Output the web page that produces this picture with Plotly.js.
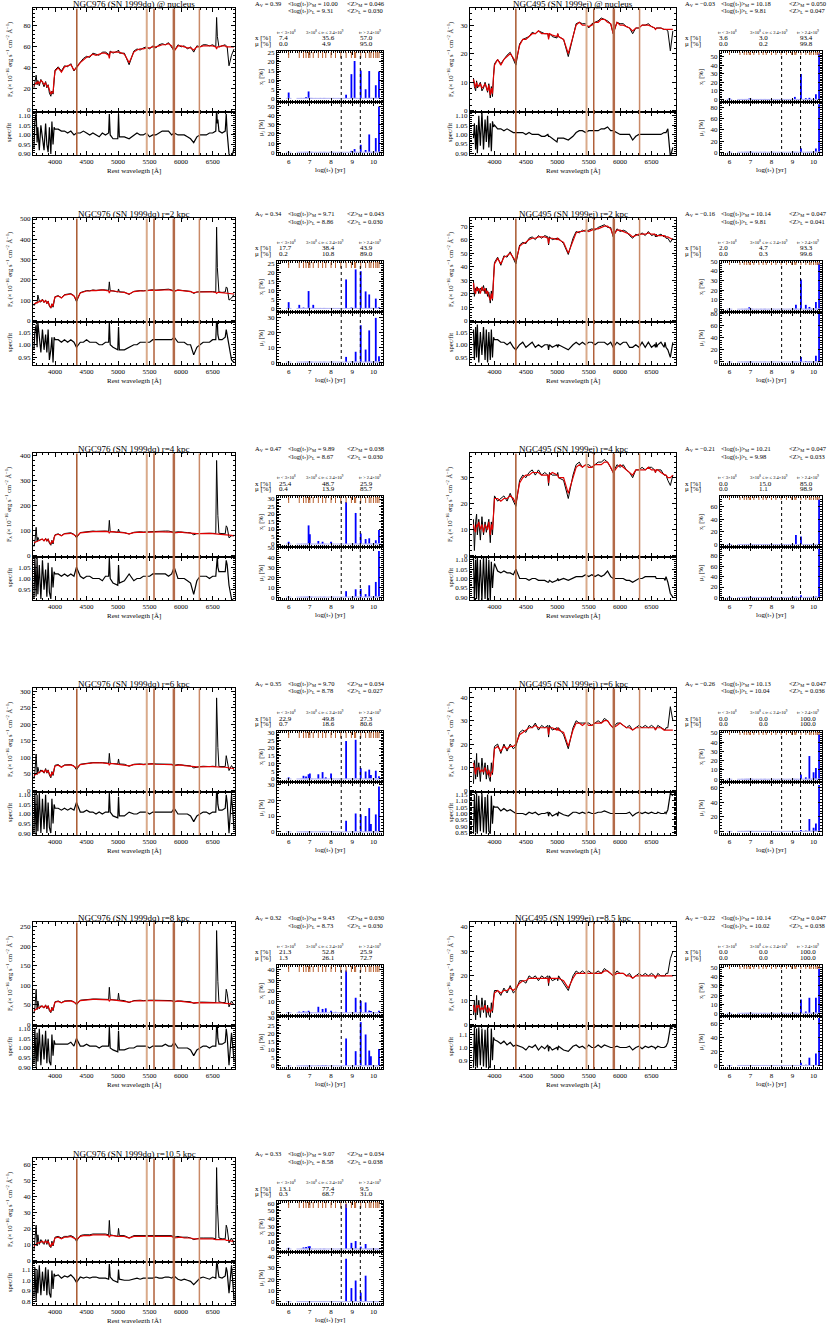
<!DOCTYPE html>
<html>
<head>
<meta charset="utf-8">
<script src="https://cdn.plot.ly/plotly-3.0.1.min.js"></script>
<style>
  html, body { margin: 0; padding: 0; background: #fff; }
  #chart { width: 828px; height: 1323px; }
</style>
</head>
<body>
<div id="chart"></div>
<script>
// Rest-frame wavelength grid (A) shared by every spectrum
const WAVE = [
  3665, 3680, 3700, 3715, 3727, 3750, 3775, 3800, 3825, 3850,
  3870, 3890, 3910, 3933, 3950, 3968, 3985, 4000, 4050, 4101,
  4150, 4200, 4250, 4300, 4340, 4400, 4450, 4500, 4550, 4600,
  4650, 4700, 4750, 4800, 4850, 4861, 4875, 4920, 4995, 5007,
  5020, 5100, 5175, 5250, 5300, 5350, 5400, 5450, 5500, 5550,
  5600, 5650, 5700, 5750, 5800, 5850, 5890, 5950, 6000, 6050,
  6100, 6150, 6200, 6250, 6300, 6350, 6400, 6450, 6500, 6550,
  6563, 6575, 6583, 6600, 6650, 6700, 6716, 6731, 6760, 6800, 6840];

// SSP base ages, log(t*/yr)
const AGES = [6.00, 6.50, 6.70, 6.82, 6.94, 7.00, 7.16, 7.40, 7.60, 7.75,
  8.00, 8.21, 8.46, 8.71, 8.96, 9.11, 9.16, 9.40, 9.63, 9.80,
  9.88, 10.00, 10.11, 10.18, 10.26];

// masked windows (rest wavelength)
const MASK_976 = [4345, 5455, 5570, 5885, 6290];
const MASK_495 = [4340, 5465, 5580, 5900, 6310];

// ---- NGC976 @ nucleus
const FIT_976_NUC = [
  23, 24, 26, 25, 27, 25, 28, 27, 24, 26,
  22, 23, 19, 15, 17, 16, 30, 37, 40, 36,
  41, 42, 43, 38, 40, 45, 48, 50, 51, 53,
  52, 53, 54, 54, 52, 49, 55, 55, 55, 55,
  55, 53, 45, 55, 57, 58, 58, 59, 59, 60,
  60, 61, 62, 62, 63, 61, 56, 61, 61, 60,
  59, 59, 57, 60, 60, 61, 61, 61, 61, 60,
  58, 60, 60, 60, 61, 61, 60, 60, 60, 60, 60];
const OBS_976_NUC = [
  21, 25, 33, 24, 28, 23, 29, 26, 22, 27,
  21, 24, 16, 13, 18, 15, 31, 38, 41, 37,
  42, 41, 44, 37, 41, 46, 49, 51, 50, 54,
  53, 52, 55, 55, 53, 52, 56, 54, 56, 57,
  54, 54, 43, 56, 58, 57, 59, 60, 58, 61,
  59, 62, 63, 62, 64, 60, 56, 62, 60, 61,
  58, 60, 55, 61, 60, 62, 62, 61, 62, 60,
  88, 70, 66, 60, 61, 62, 61, 60, 42, 52, 58];
const RES_976_NUC = [
  0.93, 1.07, 1.12, 0.96, 1.04, 0.92, 1.05, 0.97, 0.92, 1.06,
  0.95, 0.91, 1.04, 0.90, 1.07, 0.95, 1.04, 1.03, 1.03, 1.02,
  1.02, 1.01, 1.02, 1.00, 1.01, 1.01, 1.02, 1.01, 1.00, 1.01,
  1.00, 0.99, 1.01, 1.00, 1.01, 1.11, 1.00, 0.98, 0.98, 1.11,
  0.99, 0.99, 0.98, 1.00, 1.01, 1.00, 1.00, 1.01, 0.99, 1.00,
  1.00, 1.01, 1.02, 1.02, 1.02, 1.00, 1.01, 1.00, 1.00, 1.00,
  0.99, 0.98, 0.96, 0.99, 1.00, 1.00, 1.00, 1.01, 1.01, 1.02,
  1.14, 1.06, 1.08, 1.02, 1.01, 1.02, 1.11, 1.01, 0.90, 0.88, 0.93];

// ---- NGC976 r=2 kpc
const FIT_976_2 = [
  80, 82, 85, 88, 90, 92, 95, 100, 90, 98,
  85, 92, 75, 62, 80, 70, 100, 115, 120, 110,
  125, 128, 130, 120, 100, 135, 140, 145, 145, 148,
  147, 150, 150, 148, 145, 135, 145, 146, 140, 142,
  140, 138, 130, 142, 145, 146, 145, 147, 148, 149,
  148, 149, 150, 150, 151, 148, 143, 149, 148, 146,
  144, 142, 136, 140, 140, 141, 140, 141, 140, 138,
  133, 138, 138, 138, 137, 136, 135, 135, 134, 132, 130];
const OBS_976_2 = [
  72, 80, 90, 85, 125, 95, 90, 105, 88, 100,
  82, 95, 70, 60, 82, 65, 103, 117, 122, 112,
  127, 130, 132, 122, 92, 137, 142, 147, 146, 150,
  148, 151, 151, 150, 148, 190, 147, 145, 140, 155,
  141, 139, 128, 143, 146, 147, 146, 148, 149, 151,
  149, 151, 152, 153, 154, 150, 145, 150, 149, 147,
  145, 143, 133, 140, 141, 142, 141, 142, 142, 140,
  460, 260, 200, 140, 138, 140, 165, 160, 100, 110, 128];
const RES_976_2 = [
  0.98, 1.05, 1.08, 0.99, 1.09, 1.03, 0.97, 1.06, 0.98, 1.04,
  0.97, 1.06, 0.94, 0.98, 1.03, 0.93, 1.03, 1.02, 1.02, 1.01,
  1.02, 1.01, 1.02, 1.01, 0.99, 1.01, 1.01, 1.02, 1.01, 1.01,
  1.01, 1.00, 1.00, 1.01, 1.01, 1.09, 1.00, 0.99, 0.98, 1.07,
  0.98, 0.98, 0.99, 1.00, 1.00, 1.01, 1.01, 1.01, 1.01, 1.02,
  1.02, 1.02, 1.02, 1.02, 1.02, 1.02, 1.03, 1.01, 1.01, 1.01,
  1.00, 1.00, 0.96, 0.99, 1.00, 1.01, 1.01, 1.01, 1.02, 1.02,
  1.10, 1.09, 1.04, 1.02, 1.02, 1.03, 1.06, 1.04, 1.00, 0.94, 0.93];

// ---- NGC976 r=4 kpc
const FIT_976_4 = [
  50, 52, 55, 56, 58, 60, 62, 65, 58, 66,
  58, 64, 52, 45, 58, 50, 70, 80, 84, 78,
  86, 87, 88, 82, 75, 90, 92, 93, 94, 95,
  95, 96, 96, 96, 94, 88, 94, 95, 92, 93,
  92, 90, 86, 91, 93, 93, 92, 93, 93, 94,
  93, 94, 94, 94, 95, 93, 90, 93, 93, 91,
  90, 89, 85, 87, 87, 88, 87, 88, 87, 86,
  84, 86, 86, 86, 85, 84, 83, 83, 82, 80, 78];
const OBS_976_4 = [
  35, 52, 112, 55, 72, 58, 64, 63, 57, 68,
  56, 66, 48, 40, 60, 45, 72, 82, 86, 79,
  87, 89, 90, 84, 70, 91, 93, 95, 95, 97,
  96, 97, 97, 97, 96, 140, 95, 95, 92, 105,
  93, 91, 85, 92, 94, 94, 93, 94, 95, 96,
  95, 96, 96, 97, 97, 95, 92, 94, 94, 92,
  91, 90, 82, 87, 88, 89, 88, 88, 88, 87,
  380, 210, 160, 88, 86, 86, 118, 112, 70, 78, 80];
const RES_976_4 = [
  0.91, 1.09, 0.92, 1.09, 0.93, 1.06, 0.91, 1.08, 0.95, 1.04,
  0.92, 1.07, 0.94, 0.91, 1.05, 0.96, 1.03, 1.02, 1.02, 1.01,
  1.02, 1.01, 1.02, 1.01, 1.05, 1.01, 1.00, 1.01, 1.01, 1.00,
  1.00, 1.00, 0.99, 1.01, 1.01, 1.09, 1.00, 0.98, 0.97, 1.06,
  0.98, 0.99, 1.02, 0.99, 1.00, 1.00, 1.01, 1.01, 1.01, 1.02,
  1.02, 1.02, 1.02, 1.02, 1.01, 1.02, 1.05, 1.00, 1.00, 1.00,
  0.99, 0.98, 0.93, 0.99, 1.01, 1.01, 1.01, 1.00, 1.01, 1.01,
  1.10, 1.10, 1.05, 1.03, 1.03, 1.03, 1.08, 1.06, 0.97, 0.91, 0.90];

// ---- NGC976 r=6 kpc
const FIT_976_6 = [
  45, 47, 50, 52, 54, 55, 57, 60, 55, 62,
  54, 60, 50, 42, 55, 48, 65, 74, 76, 70,
  76, 76, 77, 73, 68, 78, 80, 82, 82, 83,
  82, 83, 83, 82, 81, 76, 81, 81, 79, 80,
  79, 78, 74, 78, 79, 79, 78, 79, 79, 80,
  79, 79, 79, 79, 79, 78, 75, 77, 77, 75,
  74, 73, 70, 71, 71, 72, 71, 72, 72, 71,
  70, 71, 71, 71, 70, 70, 69, 69, 68, 67, 66];
const OBS_976_6 = [
  35, 55, 110, 48, 70, 52, 62, 58, 52, 66,
  52, 62, 46, 38, 57, 45, 68, 76, 78, 71,
  77, 78, 78, 74, 62, 79, 81, 83, 83, 84,
  83, 84, 84, 83, 82, 112, 82, 81, 80, 95,
  80, 79, 73, 79, 80, 80, 79, 80, 80, 81,
  80, 80, 80, 80, 80, 79, 76, 78, 77, 76,
  75, 74, 68, 71, 72, 73, 72, 72, 73, 72,
  280, 170, 130, 72, 71, 72, 105, 92, 60, 75, 62];
const RES_976_6 = [
  0.90, 1.11, 0.89, 1.10, 0.91, 1.11, 0.90, 1.08, 0.92, 1.10,
  0.90, 1.06, 0.93, 0.90, 1.08, 0.95, 1.05, 1.03, 1.03, 1.02,
  1.03, 1.02, 1.03, 1.02, 1.06, 1.01, 1.01, 1.02, 1.01, 1.01,
  1.00, 1.01, 1.00, 1.01, 1.01, 1.11, 1.01, 0.99, 0.98, 1.09,
  0.99, 0.99, 1.01, 1.00, 1.00, 1.01, 1.01, 1.01, 1.00, 1.01,
  1.01, 1.01, 1.01, 1.01, 1.01, 1.01, 1.03, 1.00, 1.00, 1.00,
  1.00, 0.99, 0.96, 0.99, 1.00, 1.01, 1.01, 1.00, 1.01, 1.01,
  1.12, 1.11, 1.05, 1.02, 1.02, 1.03, 1.10, 1.06, 0.90, 1.10, 0.92];

// ---- NGC976 r=8 kpc
const FIT_976_8 = [
  35, 37, 40, 41, 42, 43, 45, 47, 43, 48,
  42, 46, 38, 32, 42, 37, 50, 57, 59, 55,
  59, 60, 60, 57, 53, 61, 62, 63, 63, 64,
  64, 64, 64, 64, 63, 59, 63, 63, 61, 62,
  61, 60, 57, 60, 61, 61, 60, 61, 61, 61,
  61, 61, 61, 61, 61, 60, 58, 60, 59, 58,
  58, 57, 55, 56, 56, 56, 56, 56, 56, 55,
  55, 55, 55, 55, 55, 54, 54, 54, 53, 52, 51];
const OBS_976_8 = [
  28, 42, 90, 38, 60, 40, 48, 45, 42, 50,
  40, 48, 35, 30, 44, 35, 52, 58, 60, 56,
  60, 61, 61, 58, 50, 62, 63, 64, 64, 65,
  65, 65, 65, 65, 64, 95, 64, 63, 62, 80,
  62, 61, 56, 61, 62, 62, 61, 62, 62, 62,
  62, 62, 62, 62, 62, 61, 59, 60, 60, 59,
  58, 58, 54, 56, 57, 57, 57, 57, 57, 56,
  240, 140, 110, 58, 56, 56, 90, 80, 45, 60, 50];
const RES_976_8 = [
  0.92, 1.10, 0.90, 1.08, 0.93, 1.10, 0.91, 1.07, 0.94, 1.09,
  0.92, 1.05, 0.93, 0.91, 1.07, 0.96, 1.04, 1.02, 1.02, 1.02,
  1.02, 1.02, 1.03, 1.01, 1.05, 1.01, 1.01, 1.02, 1.01, 1.01,
  1.01, 1.00, 1.01, 1.01, 1.01, 1.11, 1.00, 0.99, 0.98, 1.09,
  0.99, 0.99, 1.00, 1.00, 1.01, 1.01, 1.01, 1.01, 1.00, 1.01,
  1.01, 1.01, 1.01, 1.02, 1.01, 1.01, 1.03, 1.00, 1.00, 1.00,
  1.00, 0.99, 0.96, 0.99, 1.00, 1.01, 1.01, 1.00, 1.01, 1.01,
  1.12, 1.11, 1.05, 1.02, 1.02, 1.03, 1.10, 1.06, 0.91, 1.08, 0.93];

// ---- NGC976 r=10.5 kpc
const FIT_976_105 = [
  9, 9.5, 10, 10.5, 11, 11, 11.5, 12, 11, 12,
  11, 12, 10, 8.5, 11, 9.5, 12.5, 14, 14.5, 13.5,
  14.5, 14.5, 15, 14, 13, 15, 15.5, 15.5, 15.5, 16,
  16, 16, 16, 16, 15.5, 14.5, 15.5, 15.5, 15, 15,
  15, 15, 14, 15, 15, 15, 15, 15, 15, 15,
  15, 15, 15, 15, 15, 15, 14, 14.5, 14.5, 14,
  14, 14, 13.5, 13.5, 13.5, 13.5, 13.5, 13.5, 13.5, 13,
  13, 13, 13, 13, 13, 13, 12.5, 12.5, 12.5, 12, 12];
const OBS_976_105 = [
  6, 12, 22, 9, 16, 10, 13, 11, 10, 13,
  10, 13, 9, 8, 12, 9, 13, 14.5, 15, 14,
  15, 15, 15.5, 14.5, 12, 15.5, 16, 16, 16, 16.5,
  16.5, 16.5, 16.5, 16.5, 16, 25, 16, 15.5, 15, 20,
  15.5, 15.5, 14, 15.5, 15.5, 15.5, 15.5, 15.5, 15.5, 15.5,
  15.5, 15.5, 15.5, 15.5, 15.5, 15.5, 14.5, 15, 14.5, 14.5,
  14.5, 14, 13, 13.5, 14, 14, 14, 14, 14, 13.5,
  58, 35, 28, 14, 13.5, 13.5, 22, 20, 11, 14, 10];
const RES_976_105 = [
  0.85, 1.12, 0.80, 1.10, 0.88, 1.14, 0.86, 1.08, 0.90, 1.12,
  0.86, 1.10, 0.88, 0.84, 1.09, 0.92, 1.06, 1.04, 1.05, 1.02,
  1.04, 1.03, 1.05, 1.02, 0.98, 1.03, 1.02, 1.03, 1.02, 1.03,
  1.03, 1.02, 1.02, 1.02, 1.01, 1.15, 1.03, 1.00, 0.98, 1.10,
  1.01, 1.00, 1.00, 1.01, 1.02, 1.01, 1.02, 1.02, 1.02, 1.02,
  1.03, 1.02, 1.02, 1.03, 1.03, 1.02, 1.04, 1.01, 1.00, 1.01,
  1.00, 0.99, 0.96, 0.99, 1.02, 1.03, 1.02, 1.01, 1.03, 1.02,
  1.16, 1.15, 1.10, 1.03, 1.02, 1.04, 1.12, 1.08, 0.88, 1.14, 0.82];

// ---- NGC495 @ nucleus
const FIT_495_NUC = [
  11, 9.5, 8, 10, 9, 8.5, 9.5, 8, 8.5, 9.5,
  8, 7, 9, 5.5, 8, 6, 12, 16, 18, 16,
  18, 19, 20, 18.5, 17, 23, 25, 25, 26, 27,
  27, 28, 27, 27, 27, 25, 27, 26.5, 26, 27,
  26, 25, 20, 26, 30, 31, 30, 30, 29.5, 30,
  31, 31, 32, 32, 31, 30.5, 27, 31, 30, 30,
  29.5, 29, 28, 29, 29, 30, 30, 30, 29.5, 29,
  28.5, 29, 29, 29, 29, 28.5, 28.5, 28.5, 28.5, 28.5, 28.5];
const OBS_495_NUC = [
  11.5, 8.5, 7, 10.5, 8, 9, 10, 7, 8, 10,
  7.5, 6.5, 9.5, 4.5, 8.5, 5, 12.5, 16.5, 18, 16.5,
  18, 19.5, 20.5, 18, 16, 23.5, 25, 25.5, 26, 27.5,
  27, 28, 27.5, 27, 27, 25.5, 27, 26, 25.5, 27,
  26, 25, 19, 26.5, 30.5, 31, 30.5, 30.5, 29, 30.5,
  31, 31.5, 32.5, 32, 31.5, 30.5, 27, 31, 30.5, 30.5,
  29.5, 29, 27, 29, 29, 30, 30, 30.5, 29.5, 29,
  28.5, 29, 29, 29, 29, 28.5, 28.5, 28.5, 28, 21, 28];
const RES_495_NUC = [
  0.98, 1.06, 0.92, 1.05, 0.90, 1.10, 0.94, 1.12, 0.92, 1.08,
  0.96, 1.10, 0.93, 1.06, 0.91, 1.07, 1.04, 1.05, 1.03, 1.03,
  1.02, 1.03, 1.02, 1.01, 1.01, 1.01, 1.01, 1.00, 1.01, 1.00,
  1.00, 1.00, 0.99, 0.99, 1.00, 0.99, 0.99, 0.98, 0.96, 0.98,
  0.98, 0.98, 0.97, 0.99, 1.01, 1.02, 1.02, 1.01, 1.02, 1.02,
  1.02, 1.02, 1.03, 1.03, 1.04, 1.02, 1.02, 1.01, 1.00, 1.00,
  1.00, 1.00, 0.97, 0.99, 1.00, 1.00, 1.00, 1.00, 1.00, 1.00,
  1.00, 1.00, 1.00, 1.00, 1.00, 1.01, 1.01, 1.01, 1.03, 0.88, 0.93];

// ---- NGC495 r=2 kpc
const FIT_495_2 = [
  28, 22, 20, 25, 22, 24, 20, 25, 22, 24,
  20, 22, 18, 15, 20, 16, 30, 42, 46, 42,
  47, 48, 50, 47, 44, 55, 57, 58, 60, 61,
  61, 62, 62, 62, 61, 57, 61, 61, 60, 61,
  60, 58, 50, 60, 65, 66, 66, 67, 66, 67,
  68, 68, 69, 70, 70, 68, 63, 67, 67, 66,
  65, 64, 62, 63, 64, 64, 64, 65, 64, 64,
  63, 63, 63, 63, 63, 63, 62, 62, 62, 61, 60];
const OBS_495_2 = [
  30, 18, 24, 22, 25, 20, 24, 22, 26, 20,
  24, 18, 21, 13, 22, 15, 32, 43, 47, 41,
  48, 47, 51, 46, 42, 56, 58, 57, 61, 62,
  60, 63, 61, 63, 62, 56, 62, 60, 61, 60,
  61, 57, 49, 61, 66, 65, 67, 66, 67, 68,
  67, 69, 70, 71, 69, 69, 62, 68, 66, 67,
  66, 63, 61, 64, 63, 65, 63, 66, 63, 64,
  62, 64, 62, 63, 64, 62, 63, 61, 61, 58, 61];
const RES_495_2 = [
  1.06, 0.94, 1.07, 0.95, 1.08, 0.93, 1.05, 0.96, 1.07, 0.94,
  1.06, 0.93, 1.05, 0.94, 1.06, 0.95, 1.03, 1.02, 1.02, 1.01,
  1.01, 1.00, 1.01, 0.99, 0.98, 1.00, 1.01, 0.99, 1.00, 1.01,
  0.99, 1.00, 0.99, 1.00, 1.00, 0.98, 1.00, 0.99, 1.00, 0.99,
  1.00, 0.99, 0.98, 1.00, 1.01, 1.00, 1.01, 1.00, 1.01, 1.01,
  1.00, 1.01, 1.01, 1.01, 1.00, 1.01, 0.99, 1.01, 1.00, 1.01,
  1.01, 0.99, 0.99, 1.00, 0.99, 1.01, 0.99, 1.01, 0.99, 1.00,
  0.99, 1.01, 0.99, 1.00, 1.01, 0.99, 1.01, 0.99, 0.98, 0.95, 1.01];

// ---- NGC495 r=4 kpc
const FIT_495_4 = [
  12, 10, 9, 12, 11, 13, 10, 12, 9, 12,
  11, 10, 13, 8, 12, 10, 16, 22, 22, 21,
  22, 22, 23, 22, 20, 28, 30, 31, 31, 32,
  32, 32, 31, 31, 31, 28, 31, 32, 31, 31,
  30, 30, 24, 30, 34, 35, 34, 35, 34, 34,
  35, 35, 35, 36, 36, 34, 32, 34, 35, 34,
  33, 32, 31, 33, 33, 33, 33, 34, 33, 33,
  32, 33, 33, 33, 32, 31, 31, 31, 30, 30, 31];
const OBS_495_4 = [
  14, 2, 13, 16, 8, 14, 6, 15, 8, 13,
  9, 12, 14, 5, 13, 8, 17, 23, 21, 22,
  23, 21, 24, 21, 19, 29, 31, 30, 32, 33,
  31, 33, 31, 32, 31, 27, 32, 31, 31, 32,
  30, 29, 22, 31, 35, 36, 34, 35, 35, 34,
  35, 36, 36, 37, 36, 34, 32, 35, 34, 35,
  33, 32, 30, 33, 33, 34, 33, 34, 34, 33,
  32, 33, 33, 33, 33, 31, 31, 31, 29, 27, 31];
const RES_495_4 = [
  1.12, 0.88, 1.10, 0.89, 1.12, 0.88, 1.10, 0.88, 1.12, 0.89,
  1.11, 0.88, 1.10, 0.88, 1.09, 0.95, 1.04, 1.08, 1.04, 1.03,
  1.04, 1.03, 1.03, 1.02, 1.05, 1.00, 1.00, 1.00, 0.99, 1.00,
  1.00, 0.99, 0.99, 0.99, 0.98, 0.98, 0.99, 0.98, 0.99, 1.00,
  0.99, 1.00, 0.99, 1.00, 1.01, 1.01, 1.01, 1.02, 1.01, 1.02,
  1.01, 1.02, 1.01, 1.02, 1.04, 1.01, 1.00, 1.00, 1.00, 1.00,
  0.99, 0.99, 0.98, 0.99, 1.00, 1.00, 1.01, 1.01, 1.01, 1.01,
  1.01, 1.00, 1.00, 1.00, 1.00, 1.00, 0.99, 1.01, 0.98, 0.92, 0.90];

// ---- NGC495 r=6 kpc
const FIT_495_6 = [
  12, 9, 7, 10, 9, 10, 8, 9, 8, 10,
  8, 7, 9, 6, 8, 8, 13, 18, 19, 17,
  19, 18, 19, 19, 20, 24, 25, 26, 27, 27,
  28, 27, 27, 27, 27, 24, 27, 27, 26, 27,
  26, 25, 19, 26, 29, 29, 28, 29, 28, 28,
  29, 29, 29, 30, 30, 28, 27, 28, 29, 28,
  27, 27, 26, 27, 27, 27, 27, 27, 27, 27,
  26, 27, 27, 27, 27, 26, 26, 26, 26, 26, 26];
const OBS_495_6 = [
  3, 13, 5, 16, 6, 12, 4, 14, 7, 12,
  5, 11, 6, 4, 12, 7, 14, 19, 20, 16,
  20, 17, 20, 18, 19, 25, 26, 25, 28, 27,
  29, 26, 28, 27, 28, 23, 28, 26, 27, 26,
  27, 24, 18, 27, 30, 29, 29, 29, 29, 28,
  29, 30, 29, 31, 30, 28, 27, 29, 29, 28,
  27, 28, 26, 27, 28, 27, 28, 27, 28, 27,
  26, 27, 27, 28, 27, 26, 26, 27, 27, 36, 30];
const RES_495_6 = [
  0.84, 1.15, 0.85, 1.16, 0.84, 1.14, 0.86, 1.16, 0.85, 1.13,
  0.84, 1.15, 0.86, 0.84, 1.14, 0.92, 1.06, 1.05, 1.05, 1.02,
  1.04, 1.02, 1.03, 1.01, 1.00, 1.00, 1.00, 0.99, 1.01, 1.00,
  1.01, 0.99, 1.00, 1.00, 1.01, 0.98, 1.01, 0.98, 1.00, 0.98,
  1.01, 0.99, 0.98, 1.01, 1.01, 1.00, 1.01, 1.00, 1.01, 1.00,
  1.00, 1.01, 1.01, 1.02, 1.01, 1.00, 1.00, 1.00, 1.00, 1.00,
  1.00, 1.01, 0.98, 1.00, 1.01, 1.00, 1.01, 1.00, 1.01, 1.00,
  1.00, 1.00, 1.00, 1.01, 1.00, 1.00, 1.01, 1.00, 1.03, 1.16, 1.14];

// ---- NGC495 r=8.5 kpc
const FIT_495_85 = [
  8, 6, 5, 8, 7, 8, 6, 7, 6, 8,
  6, 5, 7, 5, 6, 6, 10, 13, 14, 13,
  14, 14, 15, 14, 15, 17, 18, 18, 19, 19,
  19, 19, 19, 19, 19, 17, 19, 19, 19, 19,
  19, 18, 15, 19, 21, 21, 21, 21, 21, 21,
  21, 21, 21, 22, 22, 21, 20, 21, 21, 21,
  20, 20, 19, 20, 20, 20, 20, 20, 20, 20,
  19, 20, 20, 20, 20, 20, 20, 20, 20, 20, 20];
const OBS_495_85 = [
  4, 10, 2, 12, 4, 10, 3, 11, 5, 10,
  3, 8, 4, 3, 9, 5, 11, 14, 14, 12,
  15, 13, 16, 13, 14, 18, 18, 17, 20, 19,
  20, 18, 20, 19, 20, 16, 20, 18, 19, 18,
  20, 17, 14, 20, 22, 21, 22, 21, 22, 21,
  21, 22, 21, 23, 22, 21, 20, 22, 21, 21,
  20, 21, 19, 20, 21, 20, 21, 20, 21, 20,
  19, 20, 20, 21, 20, 20, 20, 21, 21, 27, 30];
const RES_495_85 = [
  0.84, 1.16, 0.85, 1.15, 0.84, 1.16, 0.86, 1.15, 0.85, 1.14,
  0.84, 1.16, 0.85, 0.84, 1.15, 0.90, 1.08, 1.06, 1.05, 1.03,
  1.05, 1.02, 1.04, 1.01, 1.02, 1.01, 1.00, 0.98, 1.01, 1.00,
  1.02, 0.98, 1.01, 0.99, 1.02, 0.97, 1.01, 0.98, 1.00, 0.98,
  1.01, 0.98, 0.97, 1.01, 1.02, 1.00, 1.01, 0.99, 1.02, 1.00,
  1.00, 1.02, 1.00, 1.02, 1.01, 1.00, 1.00, 1.01, 1.00, 1.00,
  1.00, 1.01, 0.98, 1.00, 1.01, 0.99, 1.01, 1.00, 1.01, 1.00,
  0.99, 1.00, 1.00, 1.01, 1.00, 1.00, 1.01, 1.01, 1.04, 1.16, 1.15];

// ---- population vectors x_j and mu_j (%), one value per base age
const XJ_976_NUC  = [3.2,0,0,0.8,3.8,0,0,0,0,0, 0,0,0,2.0,13.3,20.5,0,15.3,5.0,15.0, 0,0,7.2,0,14.8];
const MU_976_NUC  = [0,0,0,0,0,0,0,0,0,0, 0,0,0,0,1.5,3.5,0,8.2,2.5,19.5, 0,0,15.5,0,50];
const XJ_495_NUC  = [1.5,0,0,0,1.0,1.0,0,0,0,0, 0,0,0,0,0,3.0,0,30,1.5,1.9, 0,0,6.0,0,54];
const MU_495_NUC  = [0,0,0,0,0,0,0,0,0,0, 0,0,0,0,0,0.2,0,7.0,0.3,0, 0,0,6.5,0,86];
const XJ_976_2    = [3.5,2.0,0.5,0,9.7,0,2.0,0,0,0, 0,0,0,16.2,0.5,0,21.8,20.8,9.5,7.8, 0,0,5.5,0,0.7];
const MU_976_2    = [0,0,0,0,0.2,0,0,0,0,0, 0,0,0,3.5,0.3,0,7.0,25,8.5,21.5, 0,0,30,0,4.0];
const XJ_495_2    = [0,0,0,0,2.0,0,0,0,0,0, 0,0,0,0,0,0,4.7,31,4.5,2.3, 0,0,7.5,0,48];
const MU_495_2    = [0,0,0,0,0,0,0,0,0,0, 0,0,0,0,0,0,0.3,8.0,1.5,1.5, 0,0,10,0,78.6];
const XJ_976_4    = [1.5,0,0,0,12.4,6.5,0,2.0,1.5,0, 1.5,0,0,28,0,0,20.7,7.0,3.3,3.8, 0,0,2.5,0,9.3];
const MU_976_4    = [0,0,0,0,0.4,0,0,0,0,0, 0,0,0,6.0,0,0,7.9,8.3,3.0,12, 0,0,15.4,0,47];
const XJ_495_4    = [0,0,0,0,0,0,0,0,0,0, 0,0,0,0,0,0,15,12.5,0,0.5, 0,0,0.5,0,71.5];
const MU_495_4    = [0,0,0,0,0,0,0,0,0,0, 0,0,0,0,0,0,1.1,4.0,0,0, 0,0,1.5,0,93.4];
const XJ_976_6    = [1.0,0,2.0,1.5,3.0,3.5,0,3.0,4.4,1.0, 3.5,0,0,24.5,0,0,25.3,7.0,4.8,6.0, 2.5,0,5.3,0,1.7];
const MU_976_6    = [0,0,0,0,0,0,0,0,0.4,0, 0.3,0,0,7.0,0,0,11.6,11,10,15, 5.0,0,11,0,28.6];
const XJ_495_6    = [0,0,0,0,0,0,0,0,0,0, 0,0,0,0,0,0,0,5.0,2.0,25, 0,7.5,12,0,48.5];
const MU_495_6    = [0,0,0,0,0,0,0,0,0,0, 0,0,0,0,0,0,0,2.0,1.0,17, 0,5.0,11,0,64];
const XJ_976_8    = [0.3,1.0,1.5,1.0,1.8,0,0,5.5,3.5,4.1, 1.8,0.8,0,39,0,0,13.8,11,9.5,2.0, 1.5,0,0,0,1.9];
const MU_976_8    = [0,0,0,0,0,0,0,0.3,0.5,0.5, 0,0,0,17,0,0,9.1,27.2,19.5,9.5, 6.0,0,0,0,10.5];
const XJ_495_85   = [0,0,0,0,0,0,0,0,0,0, 0,0,0,0,0,0,0,15,2.0,17, 0,0,17,0,49];
const MU_495_85   = [0,0,0,0,0,0,0,0,0,0, 0,0,0,0,0,0,0,4.0,1.0,11, 0,0,17,0,67];
const XJ_976_105  = [1.5,0,2.0,2.5,3.5,3.6,0,0,0,0, 0,0,0,59,8.0,0,10.4,3.0,6.5,0, 0,0,0,0,0];
const MU_976_105  = [0,0,0,0,0,0.3,0,0,0,0, 0,0,0,38,12,0,18.7,8.0,23,0, 0,0,0,0,0];

// ---- labels and summary numbers, panel order: row by row, left then right
const TITLES = ['NGC976 (SN 1999dq) @ nucleus', 'NGC495 (SN 1999ej) @ nucleus',
  'NGC976 (SN 1999dq) r=2 kpc', 'NGC495 (SN 1999ej) r=2 kpc',
  'NGC976 (SN 1999dq) r=4 kpc', 'NGC495 (SN 1999ej) r=4 kpc',
  'NGC976 (SN 1999dq) r=6 kpc', 'NGC495 (SN 1999ej) r=6 kpc',
  'NGC976 (SN 1999dq) r=8 kpc', 'NGC495 (SN 1999ej) r=8.5 kpc',
  'NGC976 (SN 1999dq) r=10.5 kpc'];
const AV     = ['0.39', '−0.03', '0.34', '−0.16', '0.47', '−0.21', '0.35', '−0.26', '0.32', '−0.22', '0.33'];
const LOGT_M = ['10.00', '10.18', '9.71', '10.14', '9.89', '10.21', '9.70', '10.13', '9.43', '10.14', '9.07'];
const LOGT_L = ['9.31', '9.81', '8.86', '9.81', '8.67', '9.98', '8.78', '10.04', '8.73', '10.02', '8.58'];
const Z_M    = ['0.046', '0.050', '0.043', '0.047', '0.038', '0.047', '0.034', '0.047', '0.030', '0.047', '0.034'];
const Z_L    = ['0.030', '0.047', '0.030', '0.041', '0.030', '0.033', '0.027', '0.036', '0.030', '0.038', '0.038'];
const X_BINS = [['7.4', '35.6', '57.0'], ['3.6', '3.0', '93.4'], ['17.7', '38.4', '43.9'], ['2.0', '4.7', '93.3'],
  ['25.4', '48.7', '25.9'], ['0.0', '15.0', '85.0'], ['22.9', '49.8', '27.3'], ['0.0', '0.0', '100.0'],
  ['21.3', '52.8', '25.9'], ['0.0', '0.0', '100.0'], ['13.1', '77.4', '9.5']];
const MU_BINS = [['0.0', '4.9', '95.0'], ['0.0', '0.2', '99.8'], ['0.2', '10.8', '89.0'], ['0.0', '0.3', '99.6'],
  ['0.4', '13.9', '85.7'], ['0.0', '1.1', '98.9'], ['0.7', '18.6', '80.6'], ['0.0', '0.0', '100.0'],
  ['1.3', '26.1', '72.7'], ['0.0', '0.0', '100.0'], ['0.3', '68.7', '31.0']];

// axis ranges per panel: [min, max, dtick(, format)]
const SPEC_Y = [[-2, 97, 20], [-0.4, 36, 10], [-8, 505, 100], [-1, 76, 10], [-7, 410, 100], [-0.5, 39.5, 10],
  [-5, 310, 50], [-0.5, 44, 10], [-4, 262, 50], [-0.5, 42, 10], [-1, 64, 10]];
const RES_Y = [[0.895, 1.12, 0.05, '.2f'], [0.89, 1.12, 0.05, '.2f'], [0.92, 1.09, 0.05, '.2f'], [0.92, 1.09, 0.05, '.2f'],
  [0.905, 1.095, 0.05, '.2f'], [0.885, 1.115, 0.05, '.2f'], [0.89, 1.115, 0.05, '.2f'], [0.83, 1.17, 0.05, '.2f'],
  [0.89, 1.115, 0.05, '.2f'], [0.83, 1.17, 0.1, '.1f'], [0.77, 1.17, 0.1, '.1f']];
const XJ_Y = [[-2, 26, 5], [-3, 57, 10], [-2, 26.5, 5], [-3, 50.5, 10], [-2, 32, 5], [-4, 77, 20],
  [-2, 31, 5], [-3, 52, 10], [-3, 44, 10], [-3, 53, 10], [-4, 63, 10]];
const MU_Y = [[-3, 55, 10], [-5, 90, 20], [-2, 34, 10], [-5, 82, 20], [-3, 51, 10], [-5, 97, 20],
  [-2, 31.5, 10], [-5, 68, 20], [-2, 31, 5], [-5, 70, 20], [-3, 44, 10]];

const PANELS = [
  {fit: FIT_976_NUC, obs: OBS_976_NUC, res: RES_976_NUC, xj: XJ_976_NUC, mu: MU_976_NUC, mask: MASK_976},
  {fit: FIT_495_NUC, obs: OBS_495_NUC, res: RES_495_NUC, xj: XJ_495_NUC, mu: MU_495_NUC, mask: MASK_495},
  {fit: FIT_976_2, obs: OBS_976_2, res: RES_976_2, xj: XJ_976_2, mu: MU_976_2, mask: MASK_976},
  {fit: FIT_495_2, obs: OBS_495_2, res: RES_495_2, xj: XJ_495_2, mu: MU_495_2, mask: MASK_495},
  {fit: FIT_976_4, obs: OBS_976_4, res: RES_976_4, xj: XJ_976_4, mu: MU_976_4, mask: MASK_976},
  {fit: FIT_495_4, obs: OBS_495_4, res: RES_495_4, xj: XJ_495_4, mu: MU_495_4, mask: MASK_495},
  {fit: FIT_976_6, obs: OBS_976_6, res: RES_976_6, xj: XJ_976_6, mu: MU_976_6, mask: MASK_976},
  {fit: FIT_495_6, obs: OBS_495_6, res: RES_495_6, xj: XJ_495_6, mu: MU_495_6, mask: MASK_495},
  {fit: FIT_976_8, obs: OBS_976_8, res: RES_976_8, xj: XJ_976_8, mu: MU_976_8, mask: MASK_976},
  {fit: FIT_495_85, obs: OBS_495_85, res: RES_495_85, xj: XJ_495_85, mu: MU_495_85, mask: MASK_495},
  {fit: FIT_976_105, obs: OBS_976_105, res: RES_976_105, xj: XJ_976_105, mu: MU_976_105, mask: MASK_976}
];

// ---- page geometry (pixels)
const W = 828, H = 1323;
const FONT = '"Liberation Serif", "Times New Roman", serif';
const ROW_Y = [0, 210, 445, 680, 914, 1150];
const COLS = [
  {sl: 33, sr: 235, wave: [3650, 6855], bl: 277, br: 383, age: [5.45, 10.45], yTitleX: 9, barTitleX: 261, ageTick: 6,
   tx: {av: 253, lt: 286, z: 345, h: [275, 304, 357], v: [277, 320, 358]}},
  {sl: 470, sr: 676, wave: [3610, 6890], bl: 720, br: 822, age: [5.55, 10.4], yTitleX: 450, barTitleX: 701, ageTick: 3,
   tx: {av: 683, lt: 719, z: 787, h: [716, 748, 795], v: [717, 757, 798]}}
];
const MASK_STYLE = [
  {color: '#a8582e', width: 1.5}, {color: '#d9aa8a', width: 2}, {color: '#b0603a', width: 1.5},
  {color: '#b36a48', width: 2.5}, {color: '#c98a68', width: 1.5}
];
const FLUX_LABEL = 'F<sub>λ</sub> (× 10<sup>−16</sup> erg s<sup>−1</sup> cm<sup>−2</sup> Å<sup>−1</sup>)';

const fx = x => x / W;
const fy = y => 1 - y / H;

const traces = [];
const shapes = [];
const annotations = [];
const layout = {
  width: W, height: H,
  margin: {l: 0, r: 0, t: 0, b: 0},
  paper_bgcolor: '#fff', plot_bgcolor: '#fff',
  showlegend: false, hovermode: false, barmode: 'overlay',
  font: {family: FONT, color: '#000', size: 7}
};

function minorOpt(d) {
  return {ticks: 'inside', ticklen: 2, tickcolor: '#000', tickwidth: 1, dtick: d, tick0: 0, showgrid: false};
}

function baseAxis() {
  return {
    showline: true, mirror: 'allticks', linecolor: '#000', linewidth: 1,
    ticks: 'inside', ticklen: 4, tickwidth: 1, tickcolor: '#000',
    showgrid: false, zeroline: false, fixedrange: true, tick0: 0,
    tickfont: {family: FONT, size: 7, color: '#000'}
  };
}

function addAxes(k, xdom, ydom, xopt, yopt) {
  const s = k === 1 ? '' : String(k);
  layout['xaxis' + s] = Object.assign(baseAxis(), {domain: xdom, anchor: 'y' + s}, xopt);
  layout['yaxis' + s] = Object.assign(baseAxis(), {domain: ydom, anchor: 'x' + s}, yopt);
  return {x: 'x' + s, y: 'y' + s};
}

function note(text, x, y, size, xanchor, extra) {
  annotations.push(Object.assign({
    text, x: fx(x), y: fy(y), xref: 'paper', yref: 'paper', showarrow: false,
    xanchor: xanchor || 'center', yanchor: 'middle',
    font: {family: FONT, size, color: '#000'}
  }, extra || {}));
}

PANELS.forEach((p, i) => {
  const c = COLS[i % 2];
  const y0 = ROW_Y[Math.floor(i / 2)];
  const k = i * 4 + 1;
  const sx = [fx(c.sl), fx(c.sr)];
  const bx = [fx(c.bl), fx(c.br)];

  // spectrum + fit
  const sp = addAxes(k, sx, [fy(y0 + 112), fy(y0 + 8)],
    {range: c.wave, dtick: 500, showticklabels: false, minor: minorOpt(100)},
    {range: [SPEC_Y[i][0], SPEC_Y[i][1]], dtick: SPEC_Y[i][2], minor: minorOpt(SPEC_Y[i][2] / 5)});
  traces.push({type: 'scatter', mode: 'lines', x: WAVE, y: p.obs, xaxis: sp.x, yaxis: sp.y,
    line: {color: '#000', width: 1}});
  traces.push({type: 'scatter', mode: 'lines', x: WAVE, y: p.fit, xaxis: sp.x, yaxis: sp.y,
    line: {color: '#e00000', width: 1.2}});

  // residuals
  const rs = addAxes(k + 1, sx, [fy(y0 + 155), fy(y0 + 112)],
    {range: c.wave, dtick: 500, minor: minorOpt(100)},
    {range: [RES_Y[i][0], RES_Y[i][1]], dtick: RES_Y[i][2], tickformat: RES_Y[i][3], minor: minorOpt(RES_Y[i][2] / 5)});
  traces.push({type: 'scatter', mode: 'lines', x: WAVE, y: p.res, xaxis: rs.x, yaxis: rs.y,
    line: {color: '#000', width: 1.2}});

  // masked windows
  p.mask.forEach((w, j) => {
    shapes.push({type: 'line', xref: sp.x, yref: 'paper', x0: w, x1: w, y0: fy(y0 + 155), y1: fy(y0 + 8.5),
      line: MASK_STYLE[j], layer: 'above'});
  });

  // x_j and mu_j bars
  const xb = addAxes(k + 2, bx, [fy(y0 + 102), fy(y0 + 51)],
    {range: c.age, dtick: 1, showticklabels: false, minor: minorOpt(0.1)},
    {range: [XJ_Y[i][0], XJ_Y[i][1]], dtick: XJ_Y[i][2], minor: minorOpt(XJ_Y[i][2] / 5)});
  const mb = addAxes(k + 3, bx, [fy(y0 + 155), fy(y0 + 102)],
    {range: c.age, dtick: 1, minor: minorOpt(0.1)},
    {range: [MU_Y[i][0], MU_Y[i][1]], dtick: MU_Y[i][2], minor: minorOpt(MU_Y[i][2] / 5)});
  [[xb, p.xj], [mb, p.mu]].forEach(([ax, vals]) => {
    traces.push({type: 'scatter', mode: 'markers', x: AGES, y: AGES.map(() => 0), xaxis: ax.x, yaxis: ax.y,
      marker: {symbol: 'line-ew', size: 4, line: {color: '#b4b4f4', width: 1}}});
    traces.push({type: 'bar', x: AGES, y: vals, width: 0.085, xaxis: ax.x, yaxis: ax.y,
      marker: {color: '#0000ff', line: {width: 0}}});
  });
  AGES.forEach(a => {
    shapes.push({type: 'line', xref: xb.x, yref: 'paper', x0: a, x1: a,
      y0: fy(y0 + 52), y1: fy(y0 + 52 + c.ageTick), line: {color: '#b8602e', width: 1}});
  });
  [8.48, 9.38].forEach(a => {
    shapes.push({type: 'line', xref: xb.x, yref: 'paper', x0: a, x1: a, y0: fy(y0 + 155), y1: fy(y0 + 51),
      line: {color: '#000', width: 1, dash: 'dot'}});
  });

  // texts
  note(TITLES[i], (c.sl + c.sr) / 2, y0 + 3.8, 9);
  note(FLUX_LABEL, c.yTitleX, y0 + 60, 6.5, 'center', {textangle: -90});
  note('spec/fit', c.yTitleX, y0 + 133, 6.5, 'center', {textangle: -90});
  note('Rest wavelegth [Å]', (c.sl + c.sr) / 2, y0 + 171, 7);
  note('x<sub>j</sub> [%]', c.barTitleX, y0 + 77, 6.5, 'center', {textangle: -90});
  note('μ<sub>j</sub> [%]', c.barTitleX, y0 + 128, 6.5, 'center', {textangle: -90});
  note('log(t<sub>*</sub>) [yr]', (c.bl + c.br) / 2, y0 + 170, 7);

  const t = c.tx;
  note('A<sub>V</sub> = ' + AV[i], t.av, y0 + 3.8, 6.5, 'left');
  note('&lt;log(t<sub>*</sub>)&gt;<sub>M</sub> = ' + LOGT_M[i], t.lt, y0 + 3.8, 6.5, 'left');
  note('&lt;Z&gt;<sub>M</sub> = ' + Z_M[i], t.z, y0 + 3.8, 6.5, 'left');
  note('&lt;log(t<sub>*</sub>)&gt;<sub>L</sub> = ' + LOGT_L[i], t.lt, y0 + 11.5, 6.5, 'left');
  note('&lt;Z&gt;<sub>L</sub> = ' + Z_L[i], t.z, y0 + 11.5, 6.5, 'left');
  note('t<sub>*</sub> &lt; 3×10<sup>8</sup>', t.h[0], y0 + 32.5, 4.5, 'left');
  note('3×10<sup>8</sup> ≤ t<sub>*</sub> ≤ 2.4×10<sup>9</sup>', t.h[1], y0 + 32.5, 4.5, 'left');
  note('t<sub>*</sub> &gt; 2.4×10<sup>9</sup>', t.h[2], y0 + 32.5, 4.5, 'left');
  note('x [%]', t.av, y0 + 38.5, 7, 'left');
  note('μ [%]', t.av, y0 + 44, 7, 'left');
  X_BINS[i].forEach((v, j) => note(v, t.v[j], y0 + 38.5, 7, 'left'));
  MU_BINS[i].forEach((v, j) => note(v, t.v[j], y0 + 44, 7, 'left'));
});

layout.shapes = shapes;
layout.annotations = annotations;

Plotly.newPlot('chart', traces, layout, {displayModeBar: false, staticPlot: true});
</script>
</body>
</html>
